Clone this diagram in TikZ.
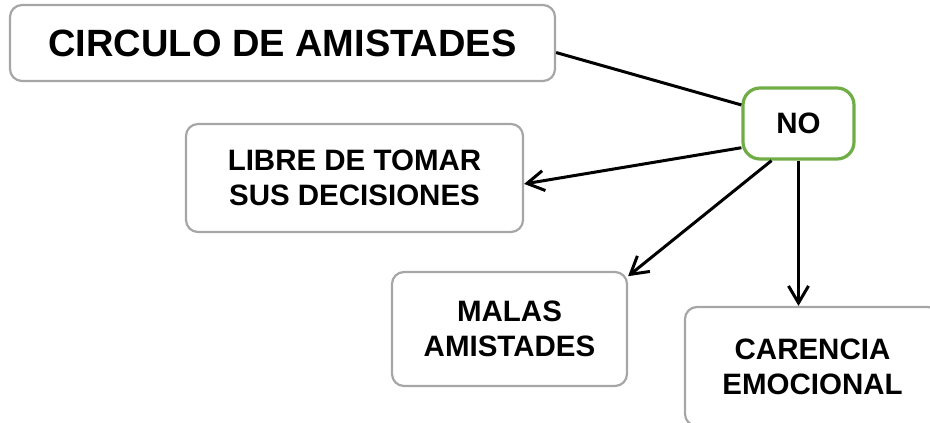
\documentclass[tikz,border=0pt]{standalone}
\usepackage{fontspec}
\setmainfont{Liberation Sans}
\usepackage{xcolor}
\usepackage{tikz}
\usetikzlibrary{arrows.meta}
\definecolor{bordegris}{HTML}{A6A6A6}
\definecolor{bordeverde}{HTML}{70AD47}

\begin{document}
\begin{tikzpicture}[x=1pt,y=-1pt,
 caja/.style={draw=bordegris, line width=2.2pt, rounded corners=12pt, align=center, inner sep=0pt, font=\bfseries\fontsize{29.5}{35}\selectfont},
 cajano/.style={caja, draw=bordeverde, line width=3.2pt, rounded corners=17pt},
 flecha/.style={line width=3pt, -{Straight Barb[length=17pt,width=20pt,line width=3pt]}}]
\useasboundingbox (0,0) rectangle (930,423);
\node[caja, minimum width=545pt, minimum height=76pt, font=\bfseries\fontsize{38}{45}\selectfont] (circulo) at (282.5,43) {CIRCULO DE AMISTADES};
\node[cajano, minimum width=111pt, minimum height=71pt] (no) at (798.5,123.5) {NO};
\node[caja, minimum width=337pt, minimum height=108pt] (libre) at (354.5,178) {LIBRE DE TOMAR\\SUS DECISIONES};
\node[caja, minimum width=235pt, minimum height=114pt] (malas) at (509.5,329) {MALAS\\AMISTADES};
\node[caja, minimum width=255pt, minimum height=119pt] (carencia) at (812.5,366.5) {CARENCIA\\EMOCIONAL};

\draw[line width=3pt] (circulo.-2) -- (no.162);
\draw[flecha] (no.203) -- (libre.-2);
\draw[flecha] (no.234) -- (malas.24);
\draw[flecha] (no.south) -- (no.south |- carencia.north);
\end{tikzpicture}
\end{document}
